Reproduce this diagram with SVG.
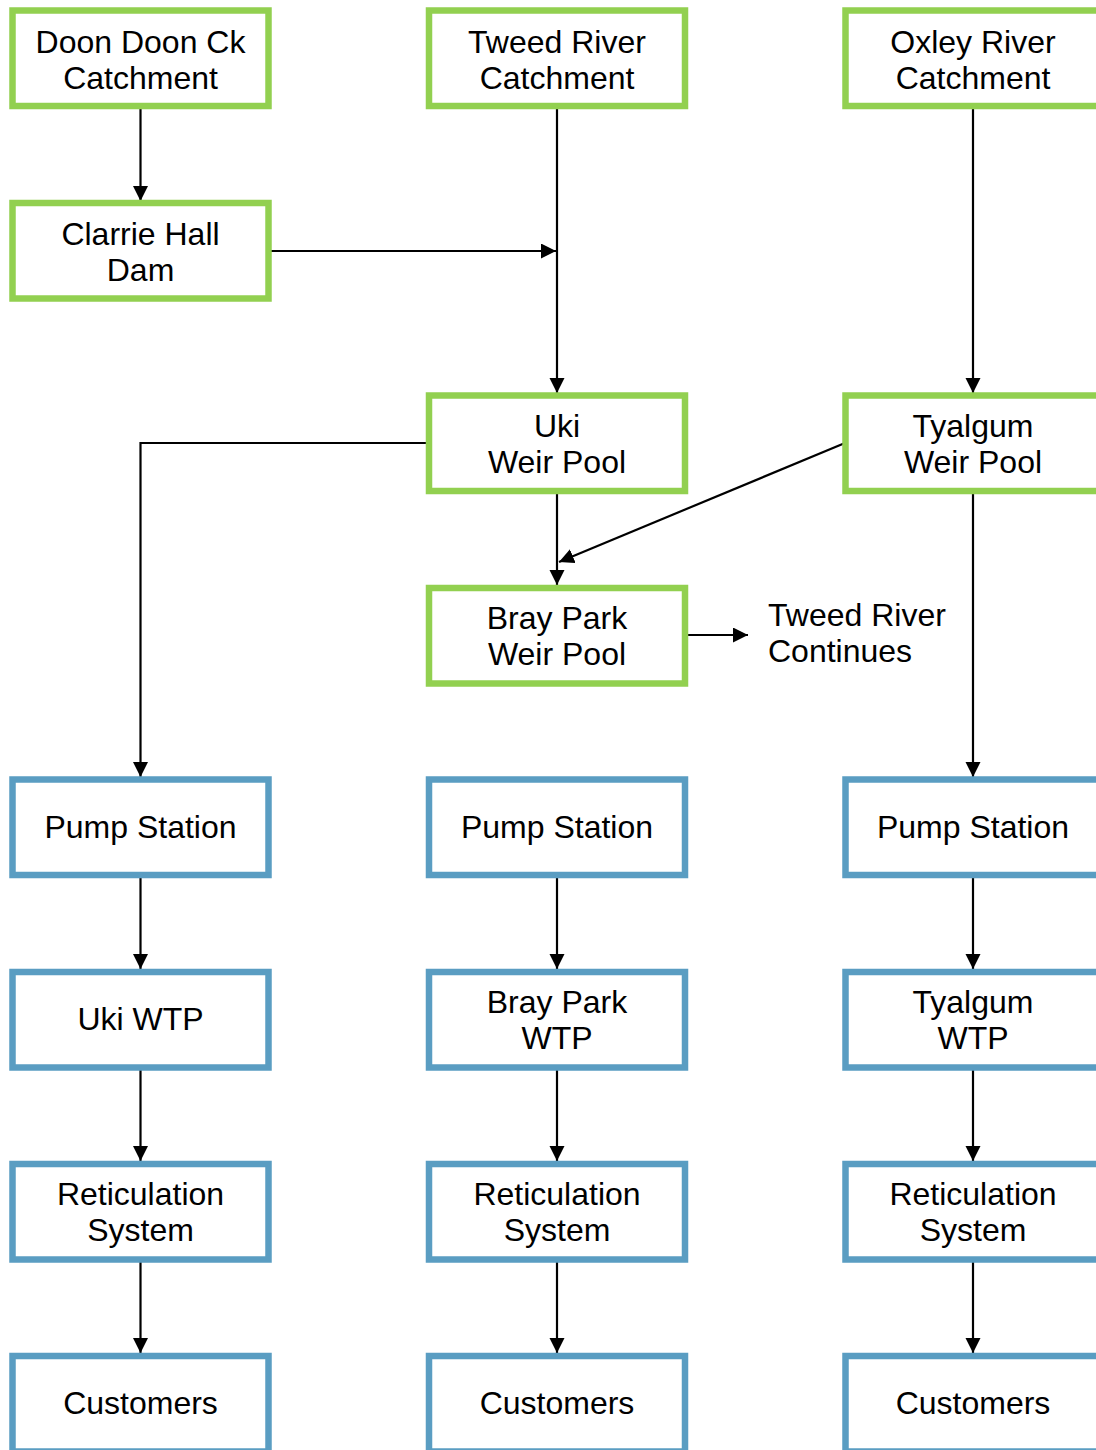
<svg xmlns="http://www.w3.org/2000/svg" width="1096" height="1450" viewBox="0 0 1096 1450">
<style>
.src rect{fill:#fff;stroke:#92D050;stroke-width:6.5}
.sup rect{fill:#fff;stroke:#5A9DC2;stroke-width:6.5}
text{font-family:"Liberation Sans",Arial,sans-serif;font-size:32px;fill:#000;text-anchor:middle}
.left{text-anchor:start}
#connectors line,#connectors polyline{stroke:#000;stroke-width:2.2;fill:none}
</style>
<defs>
<marker id="ah" markerUnits="userSpaceOnUse" markerWidth="17" markerHeight="16" refX="15" refY="7.5" orient="auto">
<path d="M0,0 L15,7.5 L0,15 z" fill="#000"/>
</marker>
</defs>
<g id="connectors">
<line x1="140.5" y1="107" x2="140.5" y2="201" marker-end="url(#ah)"/>
<line x1="268" y1="251" x2="556" y2="251" marker-end="url(#ah)"/>
<line x1="557" y1="107" x2="557" y2="393" marker-end="url(#ah)"/>
<line x1="973" y1="107" x2="973" y2="393" marker-end="url(#ah)"/>
<polyline points="429,443 140.5,443 140.5,777" marker-end="url(#ah)"/>
<line x1="557" y1="491" x2="557" y2="585" marker-end="url(#ah)"/>
<line x1="845" y1="443" x2="559" y2="562" marker-end="url(#ah)"/>
<line x1="685" y1="635" x2="748" y2="635" marker-end="url(#ah)"/>
<line x1="973" y1="491" x2="973" y2="777" marker-end="url(#ah)"/>
<line x1="140.5" y1="875" x2="140.5" y2="969" marker-end="url(#ah)"/>
<line x1="557" y1="875" x2="557" y2="969" marker-end="url(#ah)"/>
<line x1="973" y1="875" x2="973" y2="969" marker-end="url(#ah)"/>
<line x1="140.5" y1="1068" x2="140.5" y2="1161" marker-end="url(#ah)"/>
<line x1="557" y1="1068" x2="557" y2="1161" marker-end="url(#ah)"/>
<line x1="973" y1="1068" x2="973" y2="1161" marker-end="url(#ah)"/>
<line x1="140.5" y1="1260" x2="140.5" y2="1353" marker-end="url(#ah)"/>
<line x1="557" y1="1260" x2="557" y2="1353" marker-end="url(#ah)"/>
<line x1="973" y1="1260" x2="973" y2="1353" marker-end="url(#ah)"/>
</g>
<g id="doon" class="src"><rect x="12.5" y="10.5" width="256" height="95.5"/><text x="140.5" y="53">Doon Doon Ck</text><text x="140.5" y="89">Catchment</text></g>
<g id="tweed" class="src"><rect x="429" y="10.5" width="256" height="95.5"/><text x="557" y="53">Tweed River</text><text x="557" y="89">Catchment</text></g>
<g id="oxley" class="src"><rect x="845.5" y="10.5" width="256" height="95.5"/><text x="973" y="53">Oxley River</text><text x="973" y="89">Catchment</text></g>
<g id="clarrie" class="src"><rect x="12.5" y="203" width="256" height="95.5"/><text x="140.5" y="245">Clarrie Hall</text><text x="140.5" y="281">Dam</text></g>
<g id="uki-weir" class="src"><rect x="429" y="395.5" width="256" height="95.5"/><text x="557" y="437">Uki</text><text x="557" y="473">Weir Pool</text></g>
<g id="tyalgum-weir" class="src"><rect x="845.5" y="395.5" width="256" height="95.5"/><text x="973" y="437">Tyalgum</text><text x="973" y="473">Weir Pool</text></g>
<g id="bray-weir" class="src"><rect x="429" y="588" width="256" height="95.5"/><text x="557" y="629">Bray Park</text><text x="557" y="665">Weir Pool</text></g>
<g id="continues"><text class="left" x="768" y="626">Tweed River</text><text class="left" x="768" y="662">Continues</text></g>
<g id="pump-uki" class="sup"><rect x="12.5" y="779.5" width="256" height="95.5"/><text x="140.5" y="837.5">Pump Station</text></g>
<g id="pump-bray" class="sup"><rect x="429" y="779.5" width="256" height="95.5"/><text x="557" y="837.5">Pump Station</text></g>
<g id="pump-tyalgum" class="sup"><rect x="845.5" y="779.5" width="256" height="95.5"/><text x="973" y="837.5">Pump Station</text></g>
<g id="wtp-uki" class="sup"><rect x="12.5" y="972" width="256" height="95.5"/><text x="140.5" y="1030">Uki WTP</text></g>
<g id="wtp-bray" class="sup"><rect x="429" y="972" width="256" height="95.5"/><text x="557" y="1013">Bray Park</text><text x="557" y="1049">WTP</text></g>
<g id="wtp-tyalgum" class="sup"><rect x="845.5" y="972" width="256" height="95.5"/><text x="973" y="1013">Tyalgum</text><text x="973" y="1049">WTP</text></g>
<g id="ret-uki" class="sup"><rect x="12.5" y="1164" width="256" height="95.5"/><text x="140.5" y="1205">Reticulation</text><text x="140.5" y="1241">System</text></g>
<g id="ret-bray" class="sup"><rect x="429" y="1164" width="256" height="95.5"/><text x="557" y="1205">Reticulation</text><text x="557" y="1241">System</text></g>
<g id="ret-tyalgum" class="sup"><rect x="845.5" y="1164" width="256" height="95.5"/><text x="973" y="1205">Reticulation</text><text x="973" y="1241">System</text></g>
<g id="cust-uki" class="sup"><rect x="12.5" y="1356" width="256" height="95.5"/><text x="140.5" y="1414">Customers</text></g>
<g id="cust-bray" class="sup"><rect x="429" y="1356" width="256" height="95.5"/><text x="557" y="1414">Customers</text></g>
<g id="cust-tyalgum" class="sup"><rect x="845.5" y="1356" width="256" height="95.5"/><text x="973" y="1414">Customers</text></g>
</svg>
